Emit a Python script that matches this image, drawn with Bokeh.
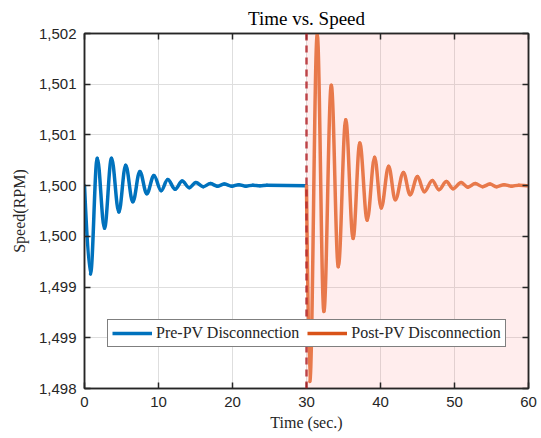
import numpy as np
from bokeh.plotting import figure
from bokeh.models import (FixedTicker, LinearAxis, Range1d, Span, BoxAnnotation,
                          Legend, LegendItem, ColumnDataSource)
from bokeh.embed import file_html
from bokeh.resources import INLINE

# ---------------- data ----------------
# extrema of the pre-disconnection speed trace (time s, speed RPM)
pre_time = [0, 0.81, 1.72, 2.70, 3.65, 4.64, 5.56, 6.53, 7.48, 8.42,
            9.38, 10.35, 11.25, 12.25, 13.2, 14.15, 15.05, 16.05, 17.0, 17.95,
            18.9, 19.9, 20.85, 21.8, 22.75, 23.7, 24.65, 30]
pre_speed = [1500.0, 1499.13, 1500.27, 1499.58, 1500.27, 1499.74, 1500.20, 1499.84, 1500.14, 1499.92,
             1500.10, 1499.95, 1500.06, 1499.965, 1500.045, 1499.98, 1500.03, 1499.99, 1500.02, 1499.995,
             1500.015, 1499.995, 1500.01, 1499.995, 1500.005, 1499.998, 1500.003, 1500.0]

# extrema of the post-disconnection speed trace
post_time = [30, 30.45, 31.45, 32.35, 33.35, 34.3, 35.3, 36.3, 37.2, 38.2,
             39.2, 40.1, 41.1, 42.0, 43.1, 44.0, 45.0, 45.9, 47.0, 47.9,
             48.9, 49.8, 50.9, 51.8, 52.8, 53.8, 54.8, 55.7, 56.7, 57.7,
             58.7, 60]
post_speed = [1500.0, 1498.07, 1501.49, 1498.76, 1500.99, 1499.20, 1500.65, 1499.48, 1500.42, 1499.66,
              1500.28, 1499.78, 1500.19, 1499.86, 1500.13, 1499.91, 1500.09, 1499.94, 1500.05, 1499.96,
              1500.04, 1499.97, 1500.03, 1499.985, 1500.02, 1499.99, 1500.015, 1499.99, 1500.01, 1499.995,
              1500.005, 1500.0]

series_names = ["Pre-PV Disconnection", "Post-PV Disconnection"]
disconnect_time = 30
x_limits = [0, 60]
y_limits = [1498.0, 1501.5]
x_ticks = [0, 10, 20, 30, 40, 50, 60]
y_ticks = [1498.0, 1498.5, 1499.0, 1499.5, 1500.0, 1500.5, 1501.0, 1501.5]
y_tick_labels = ["1,498", "1,499", "1,499", "1,500", "1,500", "1,501", "1,501", "1,502"]

# ---------------- styling ----------------
BLUE = "#0072BD"
ORANGE_LINE = "#E8794B"
ORANGE_LEG = "#D95319"
AX = "#262626"
GRID = "#DEDEDE"
SERIF = "Liberation Serif"
SANS = "Liberation Sans"
LW = 3.5


def smooth_segments(t, y, k=0.3634):
    """Cubic bezier segments between successive extrema (horizontal tangents)."""
    t = np.asarray(t, float)
    y = np.asarray(y, float)
    x0, x1, y0, y1 = t[:-1], t[1:], y[:-1], y[1:]
    dx = x1 - x0
    cx0 = x0 + dx * k
    cx1 = x1 - dx * k
    cy0 = y0.copy()
    cy1 = y1.copy()
    # first segment leaves the start point steeply
    cx0[0] = x0[0]
    return ColumnDataSource(dict(x0=x0, y0=y0, x1=x1, y1=y1,
                                 cx0=cx0, cy0=cy0, cx1=cx1, cy1=cy1))


p = figure(width=541, height=438, output_backend="svg", toolbar_location=None,
           x_range=Range1d(*x_limits), y_range=Range1d(*y_limits),
           min_border_left=84, min_border_right=13, min_border_top=10,
           min_border_bottom=50, background_fill_color="white",
           border_fill_color="white")

p.title.text = "Time vs. Speed"
p.title.align = "center"
p.title.text_font = SERIF
p.title.text_font_style = "normal"
p.title.text_font_size = "19px"
p.title.text_color = "black"
p.title.offset = 0

# shaded post-disconnection region
p.add_layout(BoxAnnotation(left=disconnect_time, right=x_limits[1],
                           fill_color="#FF8080", fill_alpha=0.14,
                           line_color=None, level="underlay"))

pre_src = smooth_segments(pre_time, pre_speed)
post_src = smooth_segments(post_time, post_speed)

p.bezier(x0="x0", y0="y0", x1="x1", y1="y1", cx0="cx0", cy0="cy0",
         cx1="cx1", cy1="cy1", source=pre_src, line_color=BLUE,
         line_width=LW, line_cap="round")
p.bezier(x0="x0", y0="y0", x1="x1", y1="y1", cx0="cx0", cy0="cy0",
         cx1="cx1", cy1="cy1", source=post_src, line_color=ORANGE_LINE,
         line_width=LW, line_cap="round")

# legend proxies (a single point: draws nothing in the plot)
r_pre = p.line(x=pre_time[:1], y=pre_speed[:1], line_color=BLUE, line_width=LW)
r_post = p.line(x=post_time[:1], y=post_speed[:1], line_color=ORANGE_LEG, line_width=LW)

# vertical dashed disconnection marker
p.add_layout(Span(location=disconnect_time, dimension="height",
                  line_color="#B5292E", line_alpha=0.85, line_width=2.5,
                  line_dash="7 5"))

# grid
for g in (p.xgrid, p.ygrid):
    g.grid_line_color = GRID
    g.grid_line_width = 1
p.xgrid.ticker = FixedTicker(ticks=x_ticks)
p.ygrid.ticker = FixedTicker(ticks=y_ticks)

# main axes
xa = p.xaxis[0]
ya = p.yaxis[0]
xa.ticker = FixedTicker(ticks=x_ticks)
ya.ticker = FixedTicker(ticks=y_ticks)
ya.major_label_overrides = {t: lab for t, lab in zip(y_ticks, y_tick_labels)}
xa.axis_label = "Time (sec.)"
ya.axis_label = "Speed(RPM)"
for a in (xa, ya):
    a.axis_label_text_font = SERIF
    a.axis_label_text_font_style = "normal"
    a.axis_label_text_font_size = "16px"
    a.axis_label_text_color = AX
    a.major_label_text_font = SANS
    a.major_label_text_font_size = "15px"
    a.major_label_text_color = AX
    a.axis_line_color = AX
    a.axis_line_width = 1.5
    a.major_tick_line_color = AX
    a.major_tick_line_width = 1.5
    a.major_tick_in = 6
    a.major_tick_out = 0
    a.minor_tick_line_color = None
    a.major_label_standoff = 8
xa.axis_label_standoff = 4
ya.axis_label_standoff = 8

# mirrored axes on top and right (ticks only, labels not drawn)
top = LinearAxis(ticker=FixedTicker(ticks=x_ticks))
right = LinearAxis(ticker=FixedTicker(ticks=y_ticks))
for a in (top, right):
    a.major_label_text_font_size = "0px"
    a.major_label_text_color = None
    a.major_label_standoff = 0
    a.axis_line_color = AX
    a.axis_line_width = 1.5
    a.major_tick_line_color = AX
    a.major_tick_line_width = 1.5
    a.major_tick_in = 6
    a.major_tick_out = 0
    a.minor_tick_line_color = None
p.add_layout(top, "above")
p.add_layout(right, "right")

p.outline_line_color = AX
p.outline_line_width = 1.5

legend = Legend(items=[LegendItem(label=series_names[0], renderers=[r_pre]),
                       LegendItem(label=series_names[1], renderers=[r_post])],
                orientation="horizontal", location=(23, 41),
                label_text_font=SERIF, label_text_font_size="16px",
                label_text_color=AX, glyph_width=40, glyph_height=16,
                label_standoff=4, spacing=8, padding=4, margin=0,
                border_line_color="black", border_line_width=1.2,
                background_fill_color="white", background_fill_alpha=1.0)
p.add_layout(legend)

open("out.html", "w").write(file_html(p, INLINE))
